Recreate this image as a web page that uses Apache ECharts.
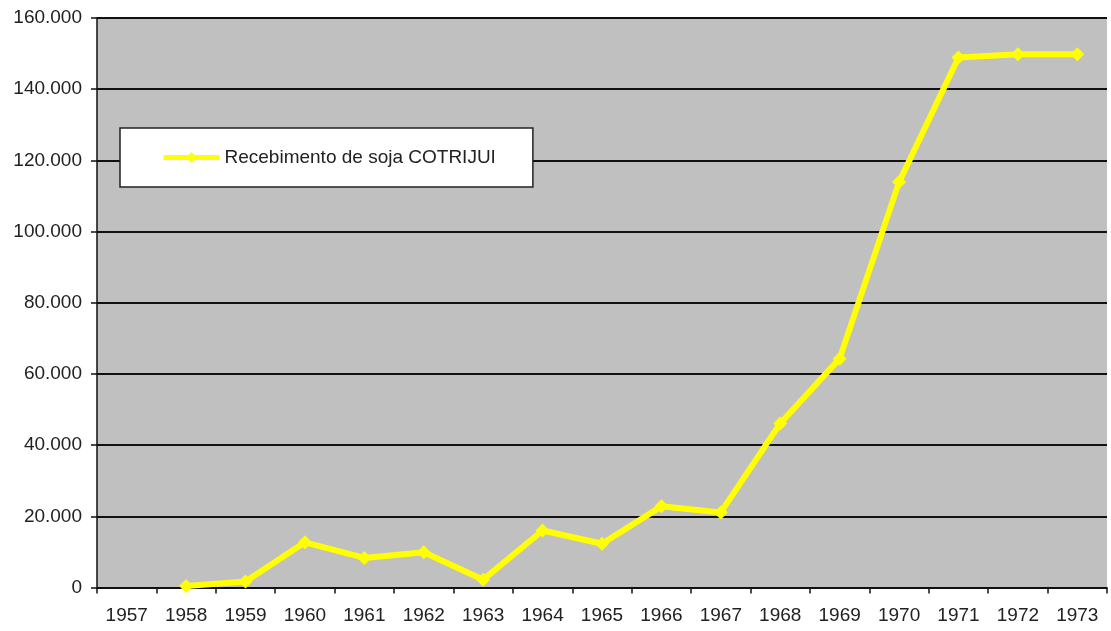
<!DOCTYPE html>
<html>
<head>
<meta charset="utf-8">
<script src="https://cdn.jsdelivr.net/npm/echarts@6/dist/echarts.min.js"></script>
<style>
  html, body { margin: 0; padding: 0; background: #fff; }
  #chart { width: 1111px; height: 631px; }
</style>
</head>
<body>
<div id="chart"></div>
<script>
// anos
const years = ['1957', '1958', '1959', '1960', '1961', '1962', '1963', '1964', '1965',
  '1966', '1967', '1968', '1969', '1970', '1971', '1972', '1973']
// recebimento de soja (1957 sem dado)
const soja = [null, 400, 1700, 12700, 8300, 9900, 2200, 16000, 12300,
  22800, 21100, 46100, 64300, 113900, 148900, 149800, 149800]
const seriesName = 'Recebimento de soja COTRIJUI'

const chart = echarts.init(document.getElementById('chart'))
const fontFamily = '"Liberation Sans", Arial, sans-serif'

const option = {
  backgroundColor: '#fff',
  animation: false,
  legend: {
    left: 120,
    top: 128,
    padding: [20, 37, 20, 41],
    backgroundColor: '#fff',
    borderColor: '#222',
    borderWidth: 1.5,
    itemWidth: 56,
    itemHeight: 14,
    itemGap: 4,
    lineStyle: { width: 5 },
    textStyle: { fontFamily: fontFamily, fontSize: 19, color: '#222' },
    data: [seriesName]
  },
  grid: {
    left: 97,
    right: 4,
    top: 18,
    bottom: 43.5,
    show: true,
    backgroundColor: '#c0c0c0',
    borderWidth: 0
  },
  xAxis: {
    type: 'category',
    data: years,
    boundaryGap: true,
    axisLine: { lineStyle: { color: '#111', width: 1.5 } },
    axisTick: { show: true, length: 6, lineStyle: { color: '#111', width: 1.5 } },
    axisLabel: {
      interval: 0,
      margin: 19,
      fontFamily: fontFamily,
      fontSize: 19,
      color: '#222'
    }
  },
  yAxis: {
    type: 'value',
    min: 0,
    max: 160000,
    interval: 20000,
    axisLine: { show: true, lineStyle: { color: '#111', width: 1.5 } },
    axisTick: { show: true, length: 6, lineStyle: { color: '#111', width: 1.5 } },
    axisLabel: {
      margin: 15,
      fontFamily: fontFamily,
      fontSize: 19,
      color: '#222',
      formatter: function (v) {
        return v === 0 ? '0' : String(v).replace(/\B(?=(\d{3})+(?!\d))/g, '.')
      }
    },
    splitLine: { lineStyle: { color: '#111', width: 1.8 } }
  },
  series: [
    {
      name: seriesName,
      type: 'line',
      data: soja,
      symbol: 'diamond',
      symbolSize: 14,
      itemStyle: { color: '#ffff00' },
      lineStyle: { color: '#ffff00', width: 6 }
    }
  ]
}

chart.setOption(option)
</script>
</body>
</html>
